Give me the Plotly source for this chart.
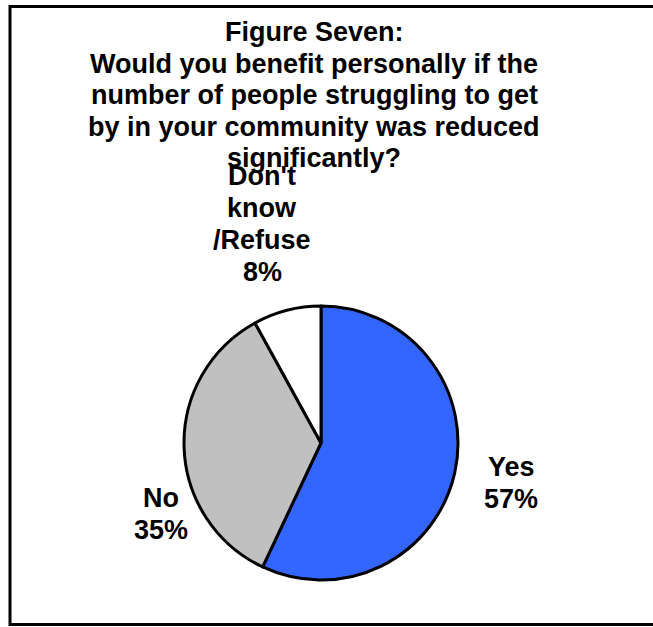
import plotly.graph_objects as go

# Survey answers and shares (percent)
categories = ["Yes", "No", "Don't<br>know<br>/Refuse"]
label_lines = [["Yes"], ["No"], ["Don't", "know", "/Refuse"]]
values = [57, 35, 8]
colors = ["#3366FF", "#C0C0C0", "#FFFFFF"]

title_lines = [
    "Figure Seven:",
    "Would you benefit personally if the",
    "number of people struggling to get",
    "by in your community was reduced",
    "significantly?",
]

W, H = 653, 627
FONT = "Liberation Sans, Arial, sans-serif"
FS = 27
LINE = 32

# pixel helpers for paper coordinates
def px(x):
    return x / W

def py(y):
    return 1 - y / H

cx, cy, r = 321, 443, 137

fig = go.Figure()
fig.add_trace(go.Pie(
    labels=categories,
    values=values,
    sort=False,
    direction="clockwise",
    rotation=0,
    marker=dict(colors=colors, line=dict(color="black", width=3)),
    textinfo="none",
    hoverinfo="label+percent",
    showlegend=False,
    domain=dict(x=[px(cx - r), px(cx + r)], y=[py(cy + r), py(cy - r)]),
))

annotations = []

def add_line(text, x, baseline):
    annotations.append(dict(
        text=f"<b>{text}</b>", x=px(x), y=py(baseline - 0.36 * FS),
        xref="paper", yref="paper", xanchor="center", yanchor="middle",
        showarrow=False, font=dict(family=FONT, size=FS, color="black"),
    ))

# title, one annotation per line
for i, t in enumerate(title_lines):
    add_line(t, 314, 42 + i * 31.5)

# slice labels: name lines followed by the percentage
label_pos = [(511, 477), (161, 508), (262, 186)]
for lines, v, (lx, lb) in zip(label_lines, values, label_pos):
    for j, t in enumerate(lines + [f"{v}%"]):
        add_line(t, lx, lb + j * LINE)

fig.update_layout(
    width=W, height=H,
    margin=dict(l=0, r=0, t=0, b=0),
    paper_bgcolor="white", plot_bgcolor="white",
    annotations=annotations,
    shapes=[dict(type="rect", xref="paper", yref="paper",
                 x0=px(10), x1=px(670), y0=py(624.5), y1=py(6.5),
                 line=dict(color="black", width=3), fillcolor="rgba(0,0,0,0)")],
)

fig.write_html("out.html")
